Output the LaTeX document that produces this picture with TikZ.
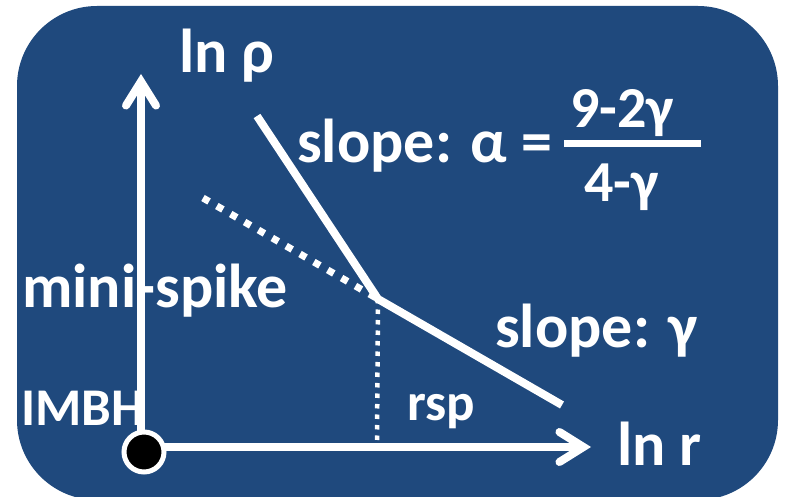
\documentclass[tikz,border=0pt]{standalone}
\usepackage{fontspec}
\setmainfont{Carlito}
\usetikzlibrary{arrows.meta,positioning}
\definecolor{panel}{HTML}{1F497D}

\begin{document}
\begin{tikzpicture}[x=1pt, y=-1pt,
  every node/.style={font=\fontsize{62}{70}\selectfont\bfseries,
                     text=white, inner sep=0pt},
  lbl/.style={anchor=base west},
  small/.style={font=\fontsize{53}{60}\selectfont\bfseries},
  frac/.style={font=\fontsize{58}{66}\selectfont\bfseries},
  axis/.style={white, line width=8pt,
               -{Straight Barb[length=24pt, width=30pt, line cap=round]}},
  curve/.style={white, line width=8pt},
  spike/.style={white, line width=7pt, dash pattern=on 7pt off 9pt},
  drop/.style={white, line width=4.5pt, dash pattern=on 4.5pt off 6pt},
  hole/.style={circle, fill=black, draw=white, line width=5pt,
               minimum size=40pt}
]
\useasboundingbox (0,0) rectangle (785,497);
\fill[panel, rounded corners=80pt] (17,6) rectangle (778,500);

% points of the plot
\coordinate (o) at (141,447);
\coordinate (ytip) at (141,74);
\coordinate (xtip) at (591,447);
\coordinate (top) at (257,116);
\coordinate (knee) at (378,299);
\coordinate (tail) at (562,405);
\coordinate (spk) at (203,198);
\coordinate (foot) at (377,440);

% axes and profile
\draw[axis] (o) -- (ytip);
\draw[axis] (o) -- (xtip);
\draw[curve] (top) -- (knee) -- (tail);
\draw[spike] (spk) -- (knee);
\draw[drop] (knee) -- (foot);
\node[hole] (bh) at (144,452) {};

% labels
\node[lbl] (lnrho) at (179,73) {ln ρ};
\node[lbl] (lnr) at (617,465) {ln r};
\node[lbl] (alpha) at (297,163) {slope: α =};
\node[lbl, frac] (num) at (570,128) {9-2γ};
\node[lbl, frac] (den) at (584,202) {4-γ};
\draw[white, line width=7pt] (564,144) coordinate (bar0) -- (701,144) coordinate (bar1);
\node[lbl] (mini) at (22,308) {mini-spike};
\node[lbl] (gam) at (495,347) {slope: γ};
\node[lbl, small] (rsp) at (407,420) {rsp};
\node[lbl, small] (imbh) at (21,425) {IMBH};
\end{tikzpicture}
\end{document}
